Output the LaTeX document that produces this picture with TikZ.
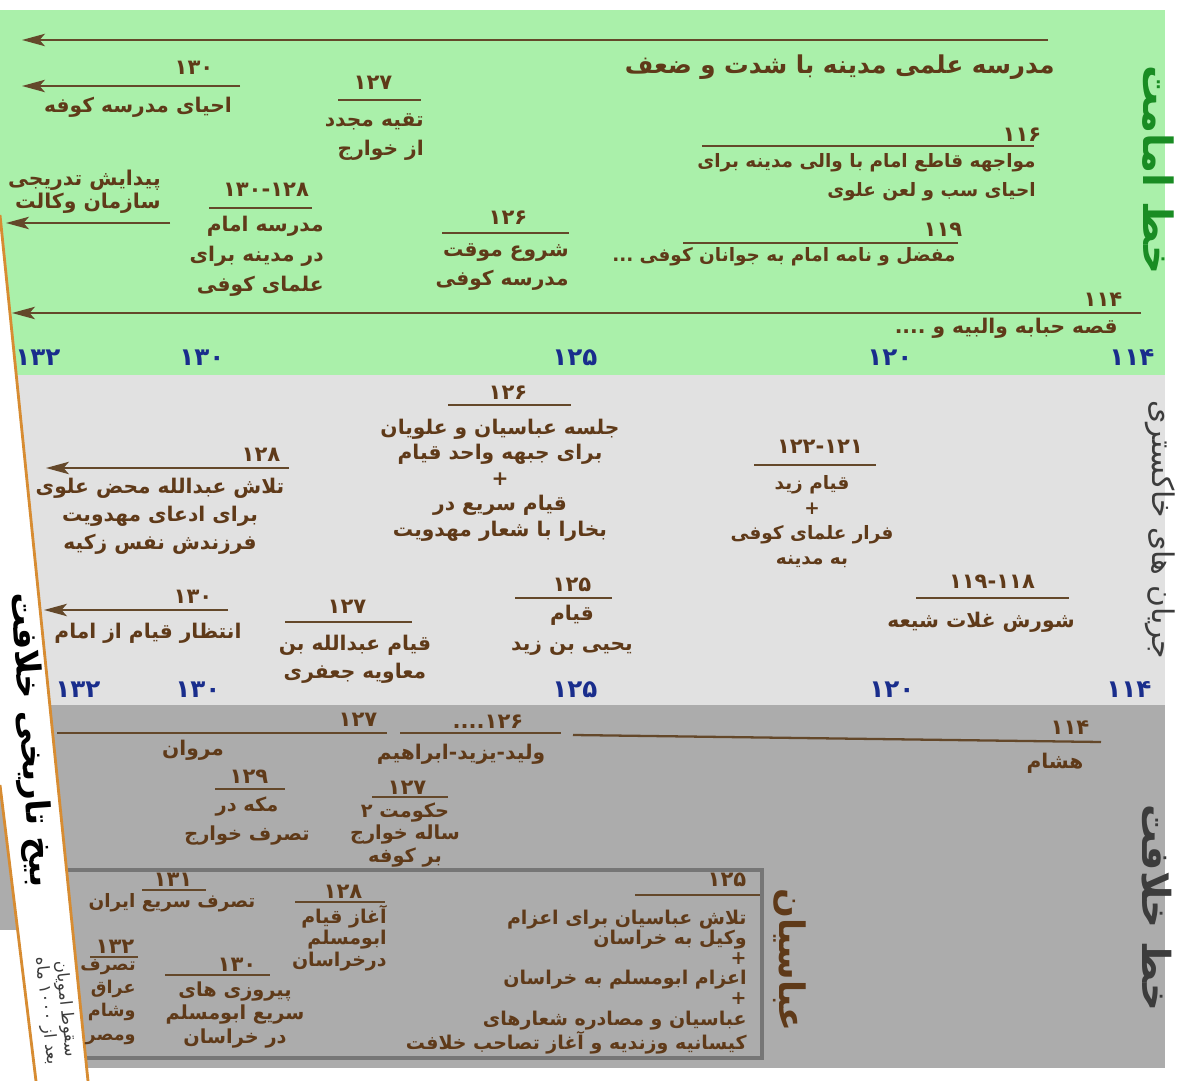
\documentclass[tikz,border=0pt]{standalone}
\usepackage{fontspec}
\usetikzlibrary{arrows.meta,positioning}
\newfontfamily\fa[Script=Arabic]{DejaVu Sans}
\TeXXeTstate=1
\newcommand{\rl}[1]{\beginR #1\endR}
\definecolor{bandgreen}{RGB}{170,240,170}
\definecolor{bandlight}{RGB}{225,225,225}
\definecolor{banddark}{RGB}{172,172,172}
\definecolor{inkbrown}{RGB}{95,58,25}
\definecolor{rulebrown}{RGB}{100,72,42}
\definecolor{axisblue}{RGB}{25,45,140}
\definecolor{imamgreen}{RGB}{25,140,35}
\definecolor{stripe}{RGB}{215,140,50}
\definecolor{boxgray}{RGB}{118,118,118}
\definecolor{sidegray}{RGB}{60,60,60}

\begin{document}
\begin{tikzpicture}[x=0.02cm,y=-0.02cm,
  yrtxt/.style={font=\fa\bfseries\fontsize{12}{14}\selectfont, text=inkbrown, inner sep=0pt},
  evtxt/.style={font=\fa\bfseries\fontsize{11.5}{17}\selectfont, text=inkbrown, inner sep=0pt, align=center},
  evtight/.style={evtxt, font=\fa\bfseries\fontsize{11.5}{14.5}\selectfont},
  boxtxt/.style={evtxt, font=\fa\bfseries\fontsize{10}{12.5}\selectfont},
  headtxt/.style={evtxt, font=\fa\bfseries\fontsize{14}{16}\selectfont},
  axnum/.style={font=\fa\bfseries\fontsize{14}{16}\selectfont, text=axisblue, inner sep=0pt},
  sidelab/.style={rotate=-90, inner sep=0pt},
  yrline/.style={draw=rulebrown, line width=1.3pt},
  arr/.style={yrline, -{Stealth[length=13pt,width=7pt,inset=3pt]}},
]
\useasboundingbox (0,0) rectangle (1178,1081);
\fill[white] (0,0) rectangle (1178,1081);
% bands
\fill[bandgreen] (0,10) rectangle (1165,375);
\fill[bandlight] (0,375) rectangle (1165,705);
\fill[banddark] (0,705) rectangle (1165,1068);
\fill[white] (0,930) rectangle (40,1081);
\draw[boxgray, line width=2.2pt] (40,870) rectangle (762,1058);
% strip
\coordinate (s_top) at (0,215);
\coordinate (s_bot) at (88,1081);
\coordinate (l_top) at (0,785);
\coordinate (l_bot) at (36,1081);
\fill[white] (-10,215) -- (s_top) -- (s_bot) -- (l_bot) -- (l_top) -- (-10,785) -- cycle;
\draw[stripe, line width=1.6pt] (s_top) -- (s_bot);
\draw[stripe, line width=1.6pt] (l_top) -- (l_bot);

% green band
\coordinate (a_top_s) at (1048,40);
\coordinate (a_top_e) at (22,40);
\draw[arr] (a_top_s) -- (a_top_e);
\node[headtxt, anchor=east] (t_school) at (1055,67) {\rl{مدرسه علمی مدینه با شدت و ضعف}};

\node[yrtxt] (y_130a) at (194,68) {۱۳۰};
\coordinate (a_kufa_s) at (240,86);
\coordinate (a_kufa_e) at (22,86);
\draw[arr] (a_kufa_s) -- (a_kufa_e);
\node[evtxt] (t_kufa) at (138,107) {\rl{احیای مدرسه کوفه}};

\node[yrtxt] (y_127a) at (373,83) {۱۲۷};
\node[evtxt, align=right, anchor=east] (t_taqiya) at (424,137) {\rl{تقیه مجدد}\\\rl{از خوارج}};

\node[yrtxt] (y_116) at (1022,135) {۱۱۶};
\node[evtxt, font=\fa\bfseries\fontsize{10.5}{16.5}\selectfont, align=right, anchor=east] (t_116) at (1036,177) {\rl{مواجهه قاطع امام با والی مدینه برای}\\\rl{احیای سب و لعن علوی}};

\node[evtight, font=\fa\bfseries\fontsize{11.6}{13.3}\selectfont, align=right, anchor=east] (t_wikala) at (161,192) {\rl{پیدایش تدریجی}\\\rl{سازمان وکالت}};
\coordinate (a_wik_s) at (170,223);
\coordinate (a_wik_e) at (6,223);
\draw[arr] (a_wik_s) -- (a_wik_e);

\node[yrtxt] (y_128a) at (266,190) {۱۳۰-۱۲۸};
\node[evtxt, align=right, anchor=east] (t_imam) at (324,256) {\rl{مدرسه امام}\\\rl{در مدینه برای}\\\rl{علمای کوفی}};

\node[yrtxt] (y_126a) at (508,218) {۱۲۶};
\node[evtxt, align=right, anchor=east] (t_mowaqqat) at (569,267) {\rl{شروع موقت}\\\rl{مدرسه کوفی}};

\node[yrtxt] (y_119) at (943,230) {۱۱۹};
\node[evtxt, font=\fa\bfseries\fontsize{10.5}{16}\selectfont, anchor=east] (t_119) at (956,257) {\rl{مفضل و نامه امام به جوانان کوفی ...}};

\node[yrtxt] (y_114a) at (1103,300) {۱۱۴};
\coordinate (a_114_s) at (1141,313);
\coordinate (a_114_e) at (12,313);
\draw[arr] (a_114_s) -- (a_114_e);
\node[evtxt, anchor=east] (t_114) at (1118,328) {\rl{قصه حبابه والبیه و ....}};

\foreach \xx/\lab [count=\i] in {38/۱۳۲, 202/۱۳۰, 575/۱۲۵, 890/۱۲۰, 1132/۱۱۴}
  \node[axnum] (ax_top_\i) at (\xx,358) {\lab};

% light gray band
\node[yrtxt] (y_126b) at (508,393) {۱۲۶};
\node[evtight] (t_jalsa) at (500,480) {\rl{جلسه عباسیان و علویان}\\\rl{برای جبهه واحد قیام}\\+\\\rl{قیام سریع در}\\\rl{بخارا با شعار مهدویت}};

\node[yrtxt] (y_121) at (820,447) {۱۲۲-۱۲۱};
\node[evtight, font=\fa\bfseries\fontsize{10.5}{14.2}\selectfont] (t_zayd) at (812,522) {\rl{قیام زید}\\+\\\rl{فرار علمای کوفی}\\\rl{به مدینه}};

\node[yrtxt] (y_128b) at (261,455) {۱۲۸};
\coordinate (a_nafs_s) at (289,468);
\coordinate (a_nafs_e) at (46,468);
\draw[arr] (a_nafs_s) -- (a_nafs_e);
\node[evtxt, font=\fa\bfseries\fontsize{11.5}{16}\selectfont] (t_nafs) at (160,516) {\rl{تلاش عبدالله محض علوی}\\\rl{برای ادعای مهدویت}\\\rl{فرزندش نفس زکیه}};

\node[yrtxt] (y_130b) at (193,597) {۱۳۰};
\coordinate (a_ent_s) at (228,610);
\coordinate (a_ent_e) at (44,610);
\draw[arr] (a_ent_s) -- (a_ent_e);
\node[evtxt] (t_entezar) at (148,633) {\rl{انتظار قیام از امام}};

\node[yrtxt] (y_127b) at (347,607) {۱۲۷};
\node[evtxt, font=\fa\bfseries\fontsize{11.5}{16}\selectfont] (t_jafari) at (355,659) {\rl{قیام عبدالله بن}\\\rl{معاویه جعفری}};

\node[yrtxt] (y_125b) at (572,585) {۱۲۵};
\node[evtxt] (t_yahya) at (572,630) {\rl{قیام}\\\rl{یحیی بن زید}};

\node[yrtxt] (y_118) at (992,582) {۱۱۹-۱۱۸};
\node[evtxt] (t_ghulat) at (981,622) {\rl{شورش غلات شیعه}};

\foreach \xx/\lab [count=\i] in {78/۱۳۲, 198/۱۳۰, 575/۱۲۵, 892/۱۲۰, 1129/۱۱۴}
  \node[axnum] (ax_mid_\i) at (\xx,690) {\lab};

% dark gray band
\node[yrtxt] (y_127c) at (358,720) {۱۲۷};
\node[yrtxt] (y_126c) at (488,722) {۱۲۶....};
\node[yrtxt] (y_114b) at (1070,728) {۱۱۴};
\draw[yrline] (573,735) -- (1101,742);
\node[evtxt] (t_marwan) at (193,750) {\rl{مروان}};
\node[evtxt] (t_walid) at (461,754) {\rl{ولید-یزید-ابراهیم}};
\node[evtxt] (t_hisham) at (1055,763) {\rl{هشام}};

\node[yrtxt] (y_129) at (249,777) {۱۲۹};
\node[evtxt, font=\fa\bfseries\fontsize{11}{16}\selectfont] (t_makka) at (247,821) {\rl{مکه در}\\\rl{تصرف خوارج}};

\node[yrtxt] (y_127d) at (407,788) {۱۲۷};
\node[boxtxt, font=\fa\bfseries\fontsize{11}{12.8}\selectfont] (t_khawarij) at (405,835) {\rl{حکومت ۲}\\\rl{ساله خوارج}\\\rl{بر کوفه}};

% abbasid box
\node[yrtxt] (y_131) at (173,880) {۱۳۱};
\node[evtxt, font=\fa\bfseries\fontsize{10.5}{12}\selectfont] (t_iran) at (172,903) {\rl{تصرف سریع ایران}};

\node[yrtxt] (y_128c) at (343,892) {۱۲۸};
\node[boxtxt, font=\fa\bfseries\fontsize{10.8}{12.2}\selectfont, align=right, anchor=east] (t_abumuslim) at (387,938) {\rl{آغاز قیام}\\\rl{ابومسلم}\\\rl{درخراسان}};

\node[yrtxt] (y_132) at (115,947) {۱۳۲};
\node[boxtxt, font=\fa\bfseries\fontsize{10}{13.2}\selectfont, align=right, anchor=east] (t_iraq) at (136,1002) {\rl{تصرف}\\\rl{عراق}\\\rl{وشام}\\\rl{ومصر}};

\node[yrtxt] (y_130c) at (237,965) {۱۳۰};
\node[boxtxt, font=\fa\bfseries\fontsize{11}{13.5}\selectfont] (t_victory) at (235,1015) {\rl{پیروزی های}\\\rl{سریع ابومسلم}\\\rl{در خراسان}};

\node[yrtxt] (y_125c) at (727,880) {۱۲۵};
\node[boxtxt, font=\fa\bfseries\fontsize{10.8}{11.5}\selectfont, align=right, anchor=east] (t_abbasid) at (747,982) {\rl{تلاش عباسیان برای اعزام}\\\rl{وکیل به خراسان}\\+\\\rl{اعزام ابومسلم به خراسان}\\+\\\rl{عباسیان و مصادره شعارهای}\\\rl{کیسانیه وزندیه و آغاز تصاحب خلافت}};

% rules under the years
\foreach \xa/\xb/\yy in {338/421/100, 702/1034/146, 209/312/208, 442/569/233, 683/958/243,
    448/571/405, 754/876/465, 285/412/622, 515/612/598, 916/1069/598,
    57/387/733, 400/561/733, 215/285/789, 372/448/797,
    142/206/890, 295/385/902, 90/138/957, 165/270/975, 635/760/895}
  \draw[yrline] (\xa,\yy) -- (\xb,\yy);

% side labels
\node[sidelab, text=imamgreen, font=\fa\bfseries\fontsize{23}{25}\selectfont] (lab_imamat) at (1158,170) {\rl{خط امامت}};
\node[sidelab, text=sidegray, font=\fa\fontsize{17}{19}\selectfont] (lab_grey) at (1160,530) {\rl{جریان های خاکستری}};
\node[sidelab, text=sidegray, font=\fa\bfseries\fontsize{22}{24}\selectfont] (lab_khilafat) at (1157,908) {\rl{خط خلافت}};
\node[sidelab, text=inkbrown, font=\fa\bfseries\fontsize{20}{22}\selectfont] (lab_abbasiyan) at (790,960) {\rl{عباسیان}};
\node[rotate=-86, inner sep=0pt, text=black, font=\fa\bfseries\fontsize{19}{21}\selectfont] (lab_root) at (30,740) {\rl{بیخ تاریخی خلافت}};
\node[rotate=-84, inner sep=0pt, text=sidegray, align=center, font=\fa\fontsize{9.5}{11}\selectfont] (lab_fall) at (56,1010) {\rl{سقوط امویان}\\\rl{بعد از ۱۰۰۰ ماه}};
\end{tikzpicture}
\end{document}
